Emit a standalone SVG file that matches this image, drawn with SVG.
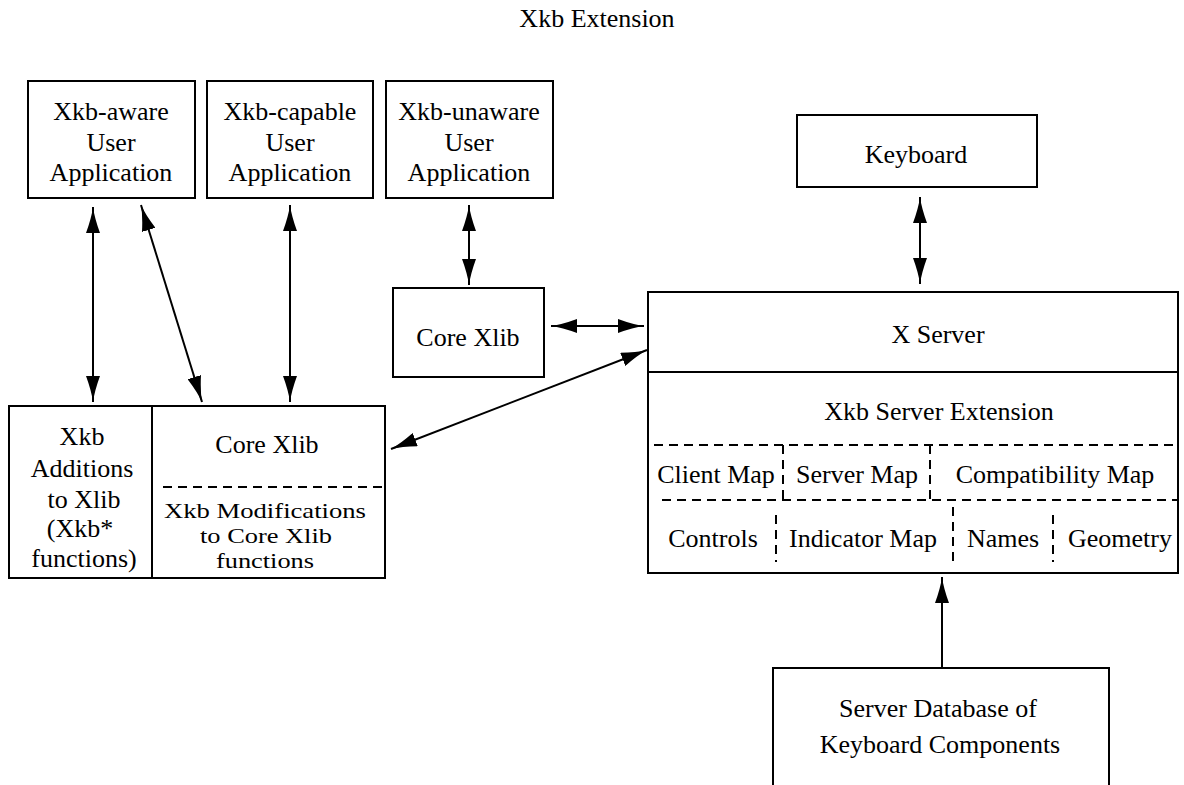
<svg xmlns="http://www.w3.org/2000/svg" width="1184" height="785" viewBox="0 0 1184 785">
<style>
.box{fill:#fff;stroke:#000;stroke-width:2}
.ln{fill:none;stroke:#000;stroke-width:2}
.dash{fill:none;stroke:#000;stroke-width:2;stroke-dasharray:9 6}
.con{fill:none;stroke:#000;stroke-width:2}
text{font-family:"Liberation Serif","Times New Roman",serif;font-size:26px;fill:#000;text-anchor:middle}
text.sm{font-size:22px}
</style>
<defs>
<marker id="ah" markerUnits="userSpaceOnUse" markerWidth="26" markerHeight="14" viewBox="0 0 26 14" refX="26" refY="7" orient="auto-start-reverse">
<path d="M0,0 Q15,5.5 26,7 Q15,8.5 0,14 Z" fill="#000"/>
</marker>
</defs>
<rect width="1184" height="785" fill="#fff"/>
<text x="597" y="27">Xkb Extension</text>
<g id="aware">
<rect class="box" x="28" y="81" width="167" height="117"/>
<text x="111" y="120">Xkb-aware</text>
<text x="111" y="151">User</text>
<text x="111" y="181">Application</text>
</g>
<g id="capable">
<rect class="box" x="207" y="81" width="166" height="117"/>
<text x="290" y="120">Xkb-capable</text>
<text x="290" y="151">User</text>
<text x="290" y="181">Application</text>
</g>
<g id="unaware">
<rect class="box" x="386" y="81" width="167" height="117"/>
<text x="469" y="120">Xkb-unaware</text>
<text x="469" y="151">User</text>
<text x="469" y="181">Application</text>
</g>
<g id="corexlib1">
<rect class="box" x="393" y="288" width="151" height="89"/>
<text x="468" y="346">Core Xlib</text>
</g>
<g id="keyboard">
<rect class="box" x="797" y="115" width="240" height="72"/>
<text x="916" y="163">Keyboard</text>
</g>
<g id="xlibbox">
<rect class="box" x="9" y="406" width="376" height="172"/>
<line class="ln" x1="152" y1="406" x2="152" y2="578"/>
<line class="dash" x1="163" y1="487" x2="385" y2="487"/>
<text x="82" y="445">Xkb</text>
<text x="82" y="477">Additions</text>
<text x="84" y="508">to Xlib</text>
<text x="80" y="537">(Xkb*</text>
<text x="84" y="567">functions)</text>
<text x="267" y="453">Core Xlib</text>
<text class="sm" x="265" y="518" textLength="202" lengthAdjust="spacingAndGlyphs">Xkb Modifications</text>
<text class="sm" x="266" y="543" textLength="132" lengthAdjust="spacingAndGlyphs">to Core Xlib</text>
<text class="sm" x="265" y="568" textLength="98" lengthAdjust="spacingAndGlyphs">functions</text>
</g>
<g id="xserver">
<rect class="box" x="648" y="292" width="530" height="281"/>
<line class="ln" x1="648" y1="372" x2="1178" y2="372"/>
<text x="938" y="343">X Server</text>
<text x="939" y="420">Xkb Server Extension</text>
<line class="dash" x1="654" y1="445" x2="1178" y2="445"/>
<line class="dash" x1="662" y1="500" x2="1178" y2="500"/>
<line class="dash" x1="783" y1="445" x2="783" y2="500"/>
<line class="dash" x1="930" y1="445" x2="930" y2="500"/>
<line class="dash" x1="776" y1="515" x2="776" y2="562"/>
<line class="dash" x1="953" y1="507" x2="953" y2="562"/>
<line class="dash" x1="1053" y1="515" x2="1053" y2="562"/>
<text x="716" y="483">Client Map</text>
<text x="857" y="483">Server Map</text>
<text x="1055" y="483">Compatibility Map</text>
<text x="713" y="547">Controls</text>
<text x="863" y="547">Indicator Map</text>
<text x="1003" y="547">Names</text>
<text x="1120" y="547">Geometry</text>
</g>
<g id="serverdb">
<rect class="box" x="773" y="668" width="336" height="140"/>
<text x="938" y="717">Server Database of</text>
<text x="940" y="753">Keyboard Components</text>
</g>
<g id="connectors">
<line class="con" x1="93" y1="207" x2="93" y2="402" marker-start="url(#ah)" marker-end="url(#ah)"/>
<line class="con" x1="141" y1="205" x2="202" y2="402" marker-start="url(#ah)" marker-end="url(#ah)"/>
<line class="con" x1="290" y1="205" x2="290" y2="402" marker-start="url(#ah)" marker-end="url(#ah)"/>
<line class="con" x1="469" y1="205" x2="469" y2="285" marker-start="url(#ah)" marker-end="url(#ah)"/>
<line class="con" x1="551" y1="326" x2="644" y2="326" marker-start="url(#ah)" marker-end="url(#ah)"/>
<line class="con" x1="391" y1="449" x2="647" y2="350" marker-start="url(#ah)" marker-end="url(#ah)"/>
<line class="con" x1="920" y1="197" x2="920" y2="284" marker-start="url(#ah)" marker-end="url(#ah)"/>
<line class="con" x1="942" y1="668" x2="942" y2="577" marker-end="url(#ah)"/>
</g>
</svg>
